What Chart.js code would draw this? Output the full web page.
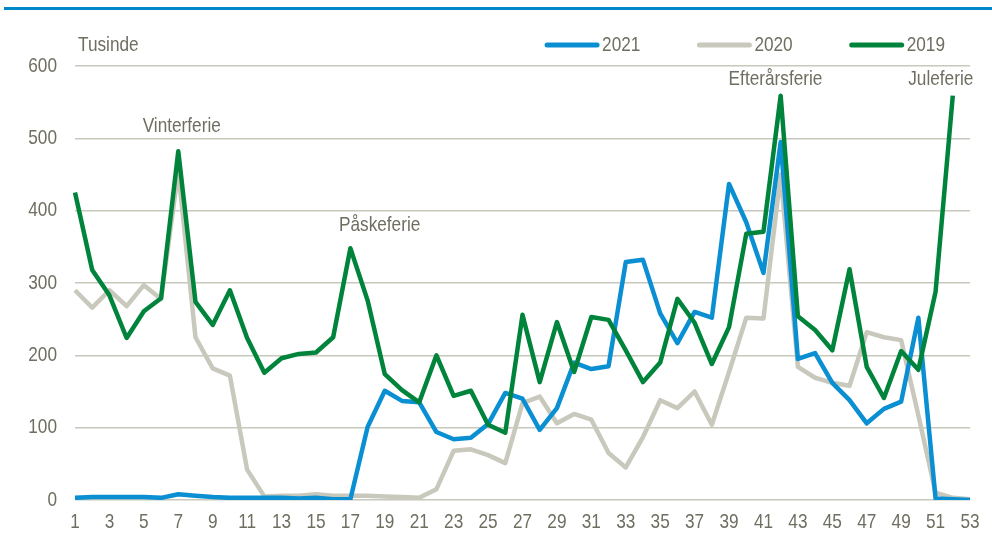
<!DOCTYPE html>
<html lang="da">
<head>
<meta charset="UTF-8">
<title>Tusinde pr. uge 2019-2021</title>
<script src="https://cdn.jsdelivr.net/npm/chart.js"></script>
<style>
    body { margin: 0; background: #fff; }
    .wrap { width: 992px; height: 539px; position: relative; }
</style>
</head>
<body>
<div class="wrap"><canvas id="chart"></canvas></div>
<script>
    const weeks = Array.from({ length: 53 }, (_, i) => String(i + 1));

    const y2021 = [3, 4, 4, 4, 4, 3, 8, 6, 4, 3, 3, 3, 3, 2, 3, 1, 1, 101, 151, 137,
        135, 94, 84, 86, 105, 148, 140, 97, 127, 190, 181, 185, 329, 332, 258, 217, 260, 252, 437, 384,
        314, 495, 195, 203, 162, 138, 106, 126, 136, 252, 2, 1, 0];

    const y2020 = [290, 266, 290, 268, 297, 278, 455, 225, 182, 172, 42, 5, 6, 6, 8, 6, 6, 6, 5, 4,
        3, 15, 68, 70, 62, 51, 134, 143, 106, 119, 111, 65, 45, 87, 138, 127, 150, 104, 177, 252,
        251, 450, 184, 169, 162, 158, 232, 225, 221, 117, 10, 3, 1];

    const y2019 = [425, 318, 283, 224, 261, 279, 482, 274, 242, 290, 224, 176, 196, 202, 204, 225, 348, 276, 174, 152,
        135, 200, 144, 151, 104, 93, 256, 163, 246, 177, 253, 249, 207, 163, 190, 278, 245, 188, 239, 368,
        371, 559, 254, 235, 207, 319, 184, 141, 206, 180, 288, 559, null];

    const yTicks = [0, 100, 200, 300, 400, 500, 600];

    const notes = [
        { week: 7.2, value: 517, text: 'Vinterferie' },
        { week: 18.7, value: 380, text: 'Påskeferie' },
        { week: 41.7, value: 582, text: 'Efterårsferie' },
        { week: 51.3, value: 582, text: 'Juleferie' }
    ];

    const FONT = '21px "Liberation Sans", Arial, sans-serif';
    const TEXT = '#6f6e61';
    const SQUEEZE = 0.82; // mimic a narrow typeface

    function narrowText(ctx, text, x, y, align) {
        ctx.save();
        ctx.translate(x, y);
        ctx.scale(SQUEEZE, 1);
        ctx.textAlign = align;
        ctx.fillText(text, 0, 0);
        ctx.restore();
    }

    function narrowWidth(ctx, text) {
        return ctx.measureText(text).width * SQUEEZE;
    }

    const extras = {
        id: 'extras',
        afterDraw(chart) {
            const ctx = chart.ctx;
            const xs = chart.scales.x, ys = chart.scales.y;
            ctx.save();

            // blue rule at the top
            ctx.fillStyle = '#0087c8';
            ctx.fillRect(4, 7, 988, 3);

            ctx.font = FONT;
            ctx.fillStyle = TEXT;
            ctx.textBaseline = 'middle';

            // axis labels
            ys.ticks.forEach((t, i) => {
                narrowText(ctx, String(t.value), ys.right - 18, ys.getPixelForTick(i), 'right');
            });
            weeks.forEach((w, i) => {
                if (i % 2 === 0) narrowText(ctx, w, xs.getPixelForValue(i), 522, 'center');
            });

            narrowText(ctx, 'Tusinde', 78, 45, 'left');

            // legend, right aligned
            const sets = chart.data.datasets;
            let x = 945;
            for (let i = sets.length - 1; i >= 0; i--) {
                x -= narrowWidth(ctx, sets[i].label);
                ctx.fillStyle = TEXT;
                narrowText(ctx, sets[i].label, x, 45, 'left');
                x -= 3 + 54;
                ctx.strokeStyle = sets[i].borderColor;
                ctx.lineWidth = 5;
                ctx.lineCap = 'round';
                ctx.beginPath();
                ctx.moveTo(x + 2, 45);
                ctx.lineTo(x + 52, 45);
                ctx.stroke();
                x -= 57;
            }

            // holiday notes
            notes.forEach(n => {
                narrowText(ctx, n.text, xs.getPixelForValue(n.week - 1), ys.getPixelForValue(n.value), 'center');
            });
            ctx.restore();
        }
    };

    new Chart(document.getElementById('chart'), {
        type: 'line',
        data: {
            labels: weeks,
            datasets: [
                { label: '2021', data: y2021, borderColor: '#0a8fd2', order: 1 },
                { label: '2020', data: y2020, borderColor: '#c8c8bc', order: 2 },
                { label: '2019', data: y2019, borderColor: '#00843c', order: 0 }
            ]
        },
        options: {
            responsive: true,
            maintainAspectRatio: false,
            animation: false,
            layout: { padding: { top: 66, right: 22, left: 0, bottom: 0 } },
            elements: {
                line: { borderWidth: 4.5, tension: 0, borderJoinStyle: 'round', borderCapStyle: 'butt' },
                point: { radius: 0 }
            },
            plugins: { legend: { display: false }, tooltip: { enabled: false } },
            scales: {
                x: {
                    offset: false,
                    grid: { display: false },
                    border: { display: false },
                    afterFit(s) { s.height = 39; },
                    ticks: { display: false, autoSkip: false }
                },
                y: {
                    min: 0,
                    max: 600,
                    afterBuildTicks(s) { s.ticks = yTicks.map(v => ({ value: v })); },
                    afterFit(s) { s.width = 75; },
                    grid: { color: '#c8c8bc', lineWidth: 1.5, drawTicks: false },
                    border: { display: false },
                    ticks: { display: false }
                }
            }
        },
        plugins: [extras]
    });
</script>
</body>
</html>
